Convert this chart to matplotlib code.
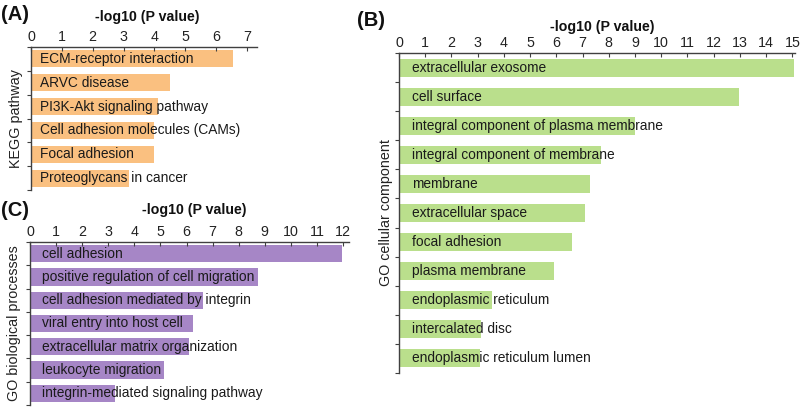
import matplotlib
matplotlib.use("Agg")
import matplotlib.pyplot as plt

plt.rcParams['font.family'] = ['Liberation Sans', 'DejaVu Sans']

W, H = 800, 413

# Data
kegg_terms = ["ECM-receptor interaction", "ARVC disease", "PI3K-Akt signaling pathway",
              "Cell adhesion molecules (CAMs)", "Focal adhesion", "Proteoglycans in cancer"]
kegg_vals = [6.55, 4.5, 4.1, 4.0, 4.0, 3.17]

cc_terms = ["extracellular exosome", "cell surface", "integral component of plasma membrane",
            "integral component of membrane", "membrane", "extracellular space",
            "focal adhesion", "plasma membrane", "endoplasmic reticulum",
            "intercalated disc", "endoplasmic reticulum lumen"]
cc_vals = [15.05, 12.95, 9.0, 7.7, 7.3, 7.08, 6.58, 5.9, 3.55, 3.14, 3.07]

bp_terms = ["cell adhesion", "positive regulation of cell migration",
            "cell adhesion mediated by integrin", "viral entry into host cell",
            "extracellular matrix organization", "leukocyte migration",
            "integrin-mediated signaling pathway"]
bp_vals = [11.95, 8.74, 6.64, 6.26, 6.1, 5.15, 3.27]

kegg_ticks = list(range(0, 8))
cc_ticks = list(range(0, 16))
bp_ticks = list(range(0, 13))

fig = plt.figure(figsize=(W / 100, H / 100), dpi=100)
fig.patch.set_facecolor('white')

axcol = '#404040'
fs = 9.9


def make_ax(left, top, right, bottom):
    return fig.add_axes([left / W, 1 - bottom / H, (right - left) / W, (bottom - top) / H])


def panel(ax, terms, vals, ticks, xmax, color, height, txt_off, ylabel, ylab_pad):
    n = len(terms)
    y = list(range(n))
    ax.barh(y, vals, height=height, color=color, edgecolor='none', zorder=1)
    ax.set_xlim(0, xmax)
    ax.set_ylim(n - 0.5, -0.5)
    for i, t in enumerate(terms):
        ax.annotate(t, (0, i), xytext=(txt_off, 0), textcoords='offset pixels',
                    va='center', ha='left', fontsize=fs, color='#1a1a1a', zorder=3)
    ax.xaxis.tick_top()
    ax.set_xticks(ticks)
    ax.set_xticklabels([str(t) for t in ticks], fontsize=10.3, color='#222222')
    ax.tick_params(axis='x', direction='in', length=3, width=0.8, color=axcol, pad=2)
    ax.set_yticks([i - 0.5 for i in range(n + 1)])
    ax.set_yticklabels([])
    ax.tick_params(axis='y', direction='out', length=3, width=0.8, color=axcol)
    for s in ['right', 'bottom']:
        ax.spines[s].set_visible(False)
    for s in ['top', 'left']:
        ax.spines[s].set_color(axcol)
        ax.spines[s].set_linewidth(1.0)
    ax.set_ylabel(ylabel, fontsize=10.3, color='#222222', labelpad=ylab_pad)
    ax.set_facecolor('none')


# Panel A
axA = make_ax(31, 47, 257, 190)
panel(axA, kegg_terms, kegg_vals, kegg_ticks, 7.32, '#FAC080', 0.72, 9, 'KEGG pathway', -1)

# Panel B
axB = make_ax(399, 53, 795, 373)
panel(axB, cc_terms, cc_vals, cc_ticks, 15.1, '#BADF8C', 0.62, 13, 'GO cellular component', -2)

# Panel C
axC = make_ax(30, 242, 349, 405)
panel(axC, bp_terms, bp_vals, bp_ticks, 12.23, '#A686C6', 0.74, 12, 'GO biological processes', 0)

# Titles
title_kw = dict(fontsize=10.2, fontweight='bold', color='#111111', ha='center', va='center')
fig.text(147 / W, 1 - 17 / H, '-log10 (P value)', **title_kw)
fig.text(602 / W, 1 - 27 / H, '-log10 (P value)', **title_kw)
fig.text(194 / W, 1 - 210 / H, '-log10 (P value)', **title_kw)

lab_kw = dict(fontsize=14.5, fontweight='bold', color='#111111', ha='left', va='center')
fig.text(1 / W, 1 - 14 / H, '(A)', **lab_kw)
fig.text(357 / W, 1 - 20 / H, '(B)', **lab_kw)
fig.text(1 / W, 1 - 211 / H, '(C)', **lab_kw)

fig.savefig('out.png', dpi=100, facecolor='white')
